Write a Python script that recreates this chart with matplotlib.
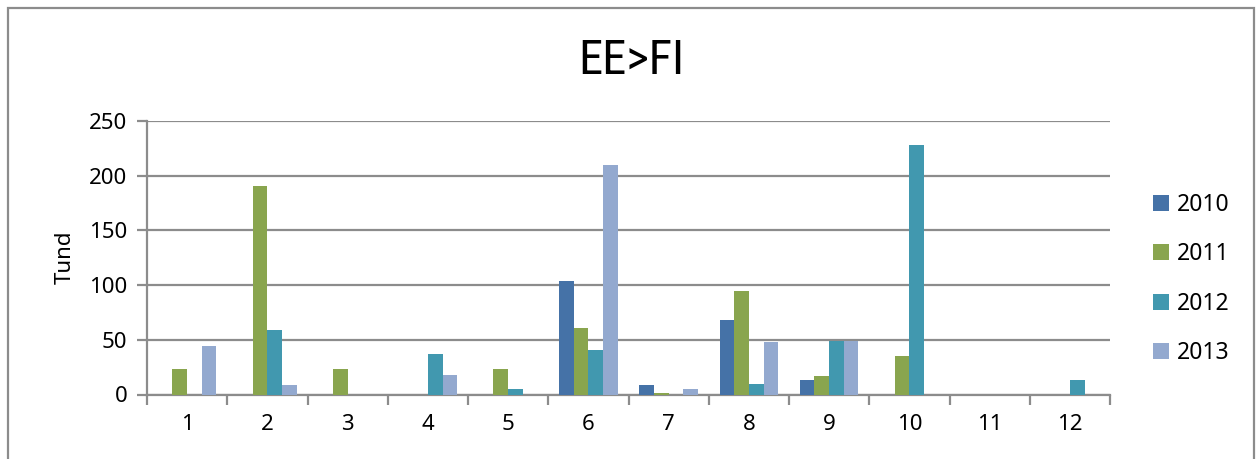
import matplotlib
matplotlib.use("Agg")
import matplotlib.pyplot as plt
from matplotlib import font_manager
from matplotlib.patches import Rectangle
import numpy as np

plt.rcParams['font.family'] = ['Noto Sans', 'DejaVu Sans']

months = [1, 2, 3, 4, 5, 6, 7, 8, 9, 10, 11, 12]
years = ["2010", "2011", "2012", "2013"]
v2010 = [0, 0, 0, 0, 0, 104, 9, 68, 13, 0, 0, 0]
v2011 = [23, 191, 23, 0, 23, 61, 1, 95, 17, 35, 0, 0]
v2012 = [0, 59, 0, 37, 5, 41, 0, 10, 49, 228, 0, 13]
v2013 = [44, 9, 0, 18, 0, 210, 5, 48, 49, 0, 0, 0]
series = [v2010, v2011, v2012, v2013]
colors = ["#4572A7", "#89A54E", "#4198AF", "#93A9CF"]

W, H = 1260, 459
fig = plt.figure(figsize=(W / 100, H / 100), dpi=100)
ax = fig.add_axes([147 / W, 1 - 394.5 / H, (1110 - 147) / W, (394.5 - 121) / H])

x = np.arange(1, 13)
bw = 0.183
for i, (vals, col, lab) in enumerate(zip(series, colors, years)):
    ax.bar(x + (i - 1.5) * bw, vals, width=bw, color=col, linewidth=0,
           label=lab, zorder=3)

grid_col = "#8c8c8c"
ax.set_ylim(0, 250)
ax.set_xlim(0.5, 12.5)
ax.set_yticks(range(0, 251, 50))
ax.yaxis.grid(True, color=grid_col, linewidth=1.6, zorder=0)
ax.set_axisbelow(True)

ax.set_xticks(np.arange(0.5, 12.6, 1))
ax.set_xticklabels([])
ax.set_xticks(x, minor=True)
ax.set_xticklabels([str(m) for m in months], minor=True)
ax.tick_params(axis="x", which="major", length=7, width=1.6, color=grid_col)
ax.tick_params(axis="x", which="minor", length=0, pad=14, labelsize=16)
ax.tick_params(axis="y", length=7, width=1.6, color=grid_col, labelsize=16, pad=7)

for s in ["top", "right"]:
    ax.spines[s].set_visible(False)
for s in ["left", "bottom"]:
    ax.spines[s].set_color(grid_col)
    ax.spines[s].set_linewidth(1.6)

ax.set_ylabel("Tund", fontsize=16, labelpad=10)

# narrow face for the heading, if one is installed
names = {f.name for f in font_manager.fontManager.ttflist}
narrow = [n for n in ["Liberation Sans Narrow", "Roboto Condensed",
                      "Open Sans Condensed", "DejaVu Sans Condensed"] if n in names]
fig.text(631 / W, 1 - 61 / H, "EE>FI", ha="center", va="center", fontsize=35,
         family=narrow + ["DejaVu Sans"], stretch="condensed")

leg = fig.legend(loc="center left", bbox_to_anchor=(1132 / W, 1 - 279 / H),
                 frameon=False, fontsize=16.5, handlelength=0.7, handleheight=0.7,
                 handletextpad=0.35, labelspacing=1.1)

fig.patches.append(Rectangle((8 / W, -0.05), (1254 - 8) / W, 1.05 - 8 / H,
                             transform=fig.transFigure, fill=False,
                             edgecolor="#8c8c8c", linewidth=1.6, clip_on=False))

fig.savefig("out.png", dpi=100)
